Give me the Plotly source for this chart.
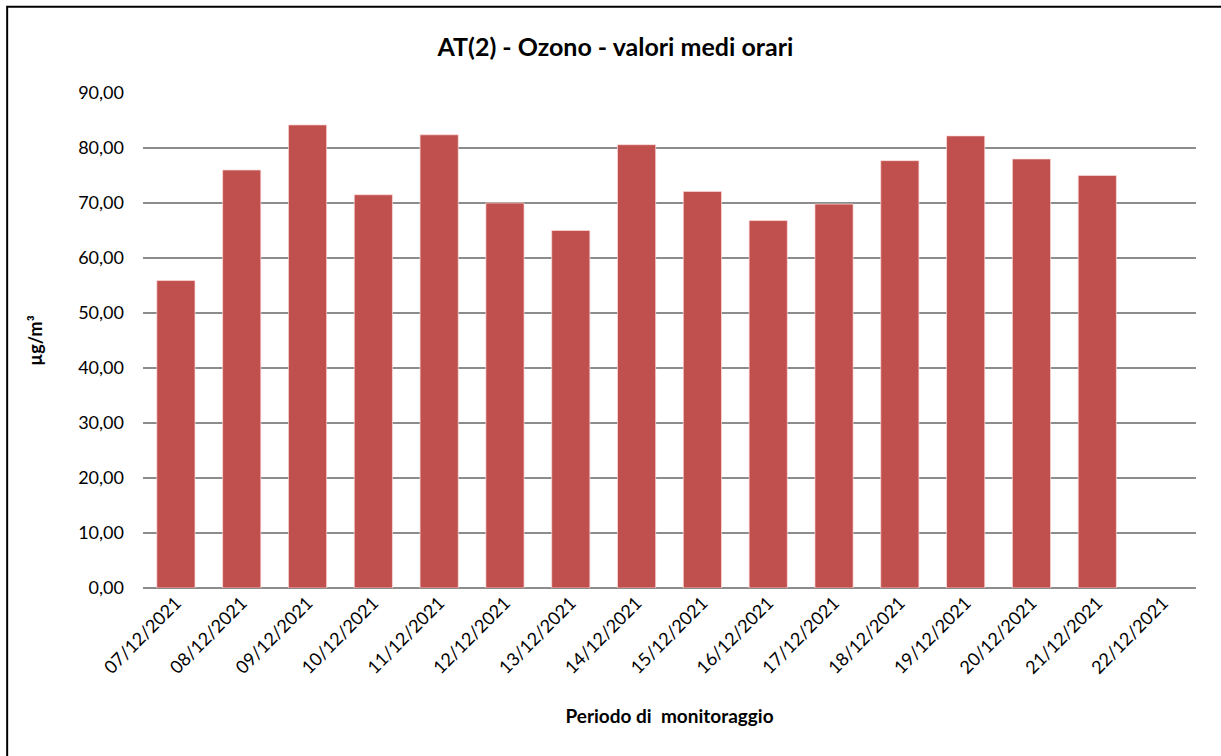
import plotly.graph_objects as go

# daily mean ozone values (µg/m³)
dates = ["07/12/2021", "08/12/2021", "09/12/2021", "10/12/2021", "11/12/2021",
         "12/12/2021", "13/12/2021", "14/12/2021", "15/12/2021", "16/12/2021",
         "17/12/2021", "18/12/2021", "19/12/2021", "20/12/2021", "21/12/2021",
         "22/12/2021"]
ozono = [55.9, 76.0, 84.2, 71.5, 82.4, 70.0, 65.0, 80.6,
         72.1, 66.8, 69.8, 77.7, 82.2, 78.0, 75.0, None]

font_family = "Lato, 'Open Sans', sans-serif"

fig = go.Figure()
fig.add_trace(go.Bar(
    x=dates,
    y=ozono,
    marker=dict(color="#C0504D", line=dict(color="rgba(255,220,220,0.7)", width=1)),
))

fig.update_layout(
    width=1221,
    height=756,
    paper_bgcolor="white",
    plot_bgcolor="white",
    separators=",.",
    showlegend=False,
    bargap=0.42,
    margin=dict(l=143, r=25, t=93, b=168),
    font=dict(family=font_family, size=18, color="black"),
    title=dict(
        text="<b>AT(2) - Ozono - valori medi orari</b>",
        x=0.504, xanchor="center",
        y=0.938, yanchor="middle",
        font=dict(size=25, color="black"),
    ),
    xaxis=dict(
        type="category",
        tickangle=-45,
        tickfont=dict(size=18),
        showgrid=False,
        showline=False,
        ticks="",
        title=dict(text="<b>Periodo di  monitoraggio</b>", font=dict(size=19), standoff=32),
    ),
    yaxis=dict(
        range=[0, 90],
        dtick=10,
        tickformat=".2f",
        showgrid=True,
        gridcolor="#8C8C8C",
        gridwidth=1.5,
        zeroline=True,
        zerolinecolor="#8C8C8C",
        zerolinewidth=1.5,
        ticks="",
        ticklabelstandoff=18,
        tickfont=dict(size=18),
        title=dict(text="<b>µg/m³</b>", font=dict(size=18), standoff=30),
    ),
    shapes=[dict(
        type="rect", xref="paper", yref="paper",
        x0=-0.129, x1=1.5, y0=-0.8, y1=1.174,
        line=dict(color="black", width=2),
        fillcolor="rgba(0,0,0,0)",
    )],
)

# drop the default page margin so the figure sits at the window corner
fig.write_html("out.html", config=dict(displayModeBar=False),
               post_script="document.body.style.margin='0px';")
